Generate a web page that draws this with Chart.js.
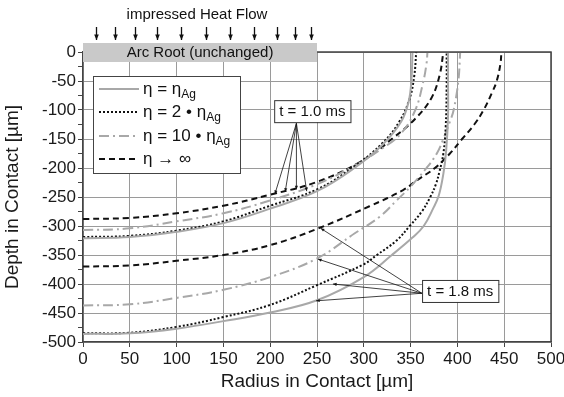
<!DOCTYPE html>
<html>
<head>
<meta charset="utf-8">
<script src="https://cdn.jsdelivr.net/npm/chart.js@4.4.0/dist/chart.umd.min.js"></script>
<style>
  html, body { margin: 0; padding: 0; background: #fff; overflow: hidden; }
  #wrap { position: relative; width: 580px; height: 397px; }
</style>
</head>
<body>
<div id="wrap"><canvas id="meltChart"></canvas></div>
<script>
// Axis ticks
const radiusTicks = [0, 50, 100, 150, 200, 250, 300, 350, 400, 450, 500];
const depthTicks = [0, -50, -100, -150, -200, -250, -300, -350, -400, -450, -500];

// t = 1.0 ms curves (radius / depth in µm)
const r_eta1_t10 = [0, 50, 100, 150, 200, 250, 290, 320, 340, 348, 351, 352];
const d_eta1_t10 = [-321, -319, -310, -295, -270, -240, -200, -160, -120, -85, -45, 0];
const r_eta2_t10 = [0, 50, 100, 150, 200, 250, 290, 320, 338, 349, 354, 356];
const d_eta2_t10 = [-319, -317, -308, -292, -265, -237, -197, -157, -120, -80, -40, 0];
const r_eta10_t10 = [0, 50, 100, 150, 200, 250, 290, 320, 340, 355, 363, 367, 368];
const d_eta10_t10 = [-307, -304, -292, -278, -256, -228, -196, -166, -140, -100, -55, -20, 0];
const r_etaInf_t10 = [0, 50, 100, 150, 200, 250, 300, 333, 355, 372, 381, 385];
const d_etaInf_t10 = [-288, -286, -278, -265, -246, -224, -186, -146, -115, -80, -40, 0];

// t = 1.8 ms curves
const r_eta1_t18 = [0, 50, 100, 150, 200, 250, 300, 330, 352, 364, 374, 380, 385, 388, 390, 390, 390];
const d_eta1_t18 = [-486, -485, -477, -464, -449, -428, -388, -350, -320, -300, -270, -248, -210, -170, -110, -50, 0];
const r_eta2_t18 = [0, 50, 100, 150, 200, 250, 300, 314, 335, 349, 362, 371, 377, 381, 385, 387.5, 388.5, 388.5];
const d_eta2_t18 = [-485, -484, -474, -457, -436, -402, -366, -350, -325, -300, -275, -250, -228, -205, -175, -130, -60, 0];
const r_eta10_t18 = [0, 50, 100, 150, 200, 250, 290, 317, 335, 350, 367, 378, 385, 392, 396, 401, 403];
const d_eta10_t18 = [-437, -435, -424, -410, -388, -356, -313, -284, -256, -232, -200, -175, -150, -120, -100, -50, 0];
const r_etaInf_t18 = [0, 50, 100, 150, 200, 250, 306, 342, 357, 376, 392, 405, 418, 428, 437, 442, 446, 447];
const d_etaInf_t18 = [-370, -368, -360, -350, -333, -305, -266, -238, -221, -200, -175, -150, -125, -100, -70, -50, -20, 0];

// Arc root and heat flow arrows (radius in µm)
const arcRootRange = [0, 250];
const heatArrowR = [14, 34, 56, 79, 105, 131, 157, 183, 207, 226, 244];

// Annotation anchors and arrow targets (data coords)
const t10LabelPos = [245, -102];
const t10ArrowFrom = [228, -123];
const t10TargetR = [205, 216, 228, 239];
const t10TargetD = [-245, -241, -237, -240];
const t18LabelPos = [403, -412];
const t18ArrowFrom = [362, -416];
const t18TargetR = [254, 251, 267, 249];
const t18TargetD = [-304, -357, -400, -429];

const FONT = "'Liberation Sans', Arial, sans-serif";
const GRAY = '#a8a8a8';
const BLACK = '#111';

function toPoints(rs, ds) {
  return rs.map((r, i) => ({ x: r, y: ds[i] }));
}

function series(rs, ds, color, dash) {
  return {
    data: toPoints(rs, ds),
    showLine: true,
    borderColor: color,
    borderWidth: 2,
    borderDash: dash,
    pointRadius: 0,
    tension: 0.4,
    fill: false,
  };
}

// Line styles for the four viscosities
const styles = [
  { color: GRAY, dash: [] },
  { color: BLACK, dash: [2, 2] },
  { color: GRAY, dash: [10, 4, 2, 4] },
  { color: BLACK, dash: [6, 4] },
];

function drawArrow(ctx, x0, y0, x1, y1, head) {
  ctx.beginPath();
  ctx.moveTo(x0, y0);
  ctx.lineTo(x1, y1);
  ctx.stroke();
  const a = Math.atan2(y1 - y0, x1 - x0);
  ctx.beginPath();
  ctx.moveTo(x1, y1);
  ctx.lineTo(x1 - head * Math.cos(a - 0.4), y1 - head * Math.sin(a - 0.4));
  ctx.lineTo(x1 - head * Math.cos(a + 0.4), y1 - head * Math.sin(a + 0.4));
  ctx.closePath();
  ctx.fill();
}

// text with "Ag" subscript
function drawEta(ctx, x, y, main, sub, size) {
  ctx.font = size + 'px ' + FONT;
  ctx.fillText(main, x, y);
  if (sub) {
    const w = ctx.measureText(main).width;
    ctx.font = Math.round(size * 0.68) + 'px ' + FONT;
    ctx.fillText(sub, x + w, y + size * 0.32);
  }
}

function drawLabelBox(ctx, text, cx, cy) {
  ctx.font = '15px ' + FONT;
  const w = ctx.measureText(text).width + 10;
  const h = 22;
  ctx.fillStyle = '#fff';
  ctx.fillRect(cx - w / 2, cy - h / 2, w, h);
  ctx.strokeStyle = '#333';
  ctx.lineWidth = 1;
  ctx.strokeRect(cx - w / 2 + 0.5, cy - h / 2 + 0.5, w, h);
  ctx.fillStyle = '#111';
  ctx.textAlign = 'center';
  ctx.textBaseline = 'middle';
  ctx.fillText(text, cx, cy + 1);
}

const decorPlugin = {
  id: 'decor',
  afterDatasetsDraw(chart) {
    const { ctx, chartArea: area, scales: { x, y } } = chart;
    ctx.save();

    // top and right frame
    ctx.strokeStyle = '#444';
    ctx.lineWidth = 1.5;
    ctx.beginPath();
    ctx.moveTo(area.left, area.top);
    ctx.lineTo(area.right, area.top);
    ctx.lineTo(area.right, area.bottom);
    ctx.stroke();

    // Arc root box
    const bx0 = x.getPixelForValue(arcRootRange[0]);
    const bx1 = x.getPixelForValue(arcRootRange[1]);
    ctx.fillStyle = '#c9c9c9';
    ctx.fillRect(bx0, area.top - 9, bx1 - bx0, 19);
    ctx.fillStyle = '#111';
    ctx.font = '15px ' + FONT;
    ctx.textAlign = 'center';
    ctx.textBaseline = 'middle';
    ctx.fillText('Arc Root (unchanged)', (bx0 + bx1) / 2, area.top + 1);

    // heat flow arrows
    ctx.fillText('impressed Heat Flow', 197, 15);
    ctx.strokeStyle = '#111';
    ctx.lineWidth = 1.3;
    heatArrowR.forEach(r => {
      const px = Math.round(x.getPixelForValue(r)) + 0.5;
      drawArrow(ctx, px, 27, px, 40, 6);
    });

    // legend
    const lx = area.left + 10, ly = area.top + 24;
    ctx.fillStyle = '#fff';
    ctx.fillRect(lx, ly, 147, 97);
    ctx.strokeStyle = '#444';
    ctx.lineWidth = 1;
    ctx.strokeRect(lx + 0.5, ly + 0.5, 147, 97);
    const rows = [
      { main: '\u03b7 = \u03b7', sub: 'Ag', size: 17, dy: 13 },
      { main: '\u03b7 = 2 \u2022 \u03b7', sub: 'Ag', size: 17, dy: 36 },
      { main: '\u03b7 = 10 \u2022 \u03b7', sub: 'Ag', size: 17, dy: 60 },
      { main: '\u03b7 \u2192 \u221e', sub: '', size: 17, dy: 83 },
    ];
    rows.forEach((row, i) => {
      const yy = ly + row.dy;
      ctx.strokeStyle = styles[i].color;
      ctx.lineWidth = 2;
      ctx.setLineDash(styles[i].dash);
      ctx.beginPath();
      ctx.moveTo(lx + 6, yy);
      ctx.lineTo(lx + 46, yy);
      ctx.stroke();
      ctx.setLineDash([]);
      ctx.fillStyle = '#111';
      ctx.textAlign = 'left';
      ctx.textBaseline = 'middle';
      drawEta(ctx, lx + 50, yy, row.main, row.sub, row.size);
    });

    // annotation arrows
    ctx.strokeStyle = '#111';
    ctx.fillStyle = '#111';
    ctx.lineWidth = 0.8;
    const fx = x.getPixelForValue(t10ArrowFrom[0]), fy = y.getPixelForValue(t10ArrowFrom[1]);
    t10TargetR.forEach((r, i) => {
      drawArrow(ctx, fx, fy, x.getPixelForValue(r), y.getPixelForValue(t10TargetD[i]), 4);
    });
    const gx = x.getPixelForValue(t18ArrowFrom[0]), gy = y.getPixelForValue(t18ArrowFrom[1]);
    t18TargetR.forEach((r, i) => {
      drawArrow(ctx, gx, gy, x.getPixelForValue(r), y.getPixelForValue(t18TargetD[i]), 4);
    });

    drawLabelBox(ctx, 't = 1.0 ms', x.getPixelForValue(t10LabelPos[0]), y.getPixelForValue(t10LabelPos[1]));
    drawLabelBox(ctx, 't = 1.8 ms', x.getPixelForValue(t18LabelPos[0]), y.getPixelForValue(t18LabelPos[1]));

    ctx.restore();
  }
};

document.addEventListener('DOMContentLoaded', function () {
  const datasets = [
    series(r_eta1_t10, d_eta1_t10, styles[0].color, styles[0].dash),
    series(r_eta2_t10, d_eta2_t10, styles[1].color, styles[1].dash),
    series(r_eta10_t10, d_eta10_t10, styles[2].color, styles[2].dash),
    series(r_etaInf_t10, d_etaInf_t10, styles[3].color, styles[3].dash),
    series(r_eta1_t18, d_eta1_t18, styles[0].color, styles[0].dash),
    series(r_eta2_t18, d_eta2_t18, styles[1].color, styles[1].dash),
    series(r_eta10_t18, d_eta10_t18, styles[2].color, styles[2].dash),
    series(r_etaInf_t18, d_etaInf_t18, styles[3].color, styles[3].dash),
  ];

  new Chart(document.getElementById('meltChart'), {
    type: 'scatter',
    data: { datasets },
    plugins: [decorPlugin],
    options: {
      responsive: true,
      maintainAspectRatio: false,
      animation: false,
      layout: { padding: { top: 52, right: 29, left: 0, bottom: 0 } },
      plugins: { legend: { display: false }, tooltip: { enabled: false } },
      scales: {
        x: {
          type: 'linear',
          min: radiusTicks[0],
          max: radiusTicks[radiusTicks.length - 1],
          afterFit: s => { s.height = 55; },
          afterBuildTicks: s => { s.ticks = radiusTicks.map(v => ({ value: v })); },
          ticks: { color: '#1a1a1a', font: { family: FONT, size: 17 }, padding: 2, maxRotation: 0, autoSkip: false },
          grid: { color: '#9a9a9a', lineWidth: 1, tickColor: '#444', tickLength: 5 },
          border: { color: '#444', width: 1.5 },
          title: { display: true, text: 'Radius in Contact [\u00b5m]', color: '#1a1a1a', font: { family: FONT, size: 19 }, padding: { top: 0, bottom: 4 } },
        },
        y: {
          type: 'linear',
          min: -500,
          max: 0,
          afterFit: s => { s.width = 83; },
          afterBuildTicks: s => {
            const t = [];
            for (let v = -500; v <= 0; v += 25) t.push({ value: v });
            s.ticks = t;
          },
          ticks: {
            color: '#1a1a1a', font: { family: FONT, size: 17 }, padding: 2, autoSkip: false,
            callback: v => (depthTicks.includes(v) ? String(v) : ''),
          },
          grid: {
            color: c => (c.tick && depthTicks.includes(c.tick.value) ? '#9a9a9a' : 'rgba(0,0,0,0)'),
            lineWidth: 1, tickColor: '#444', tickLength: 5,
          },
          border: { color: '#444', width: 1.5 },
          title: { display: true, text: 'Depth in Contact [\u00b5m]', color: '#1a1a1a', font: { family: FONT, size: 19 }, padding: { top: 1, bottom: 0 } },
        },
      },
    },
  });
});
</script>
</body>
</html>
